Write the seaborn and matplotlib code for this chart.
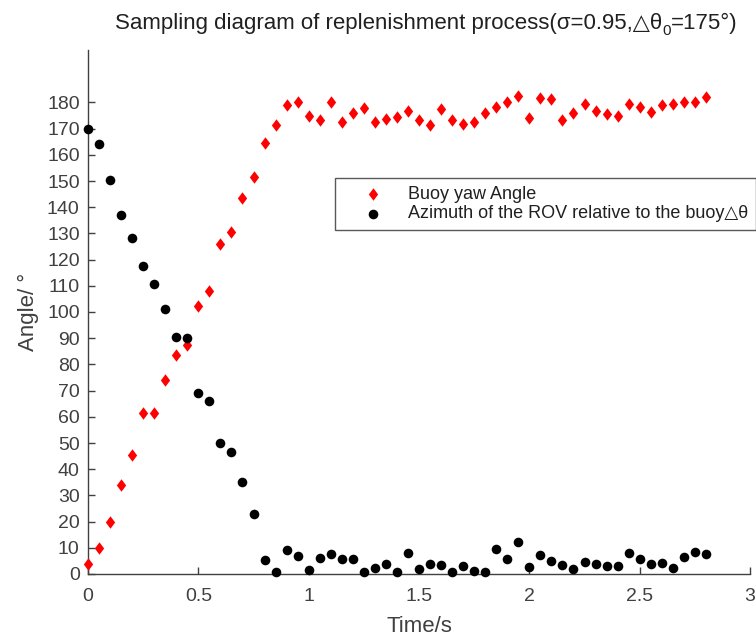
import numpy as np
import pandas as pd
import matplotlib
matplotlib.use("Agg")
import matplotlib.pyplot as plt
import seaborn as sns

time_s = [round(0.05 * i, 2) for i in range(57)]

buoy_yaw = [4, 10, 20, 34, 45.6, 61.3, 61.3, 74.2, 83.5, 87.3,
            102.2, 108, 126, 130.6, 143.5, 151.5, 164.5, 171.5, 179, 180,
            175, 173.2, 180, 172.5, 176, 178, 172.5, 173.8, 174.4, 176.7,
            173.2, 171.5, 177.6, 173.2, 171.9, 172.5, 176, 178.2, 180, 182.4,
            174, 181.8, 181.3, 173.2, 176, 179.5, 176.6, 175.7, 175, 179.5,
            178.2, 176.3, 179, 179.5, 180, 180, 182]

rov_azimuth = [170, 164.3, 150.5, 137, 128.4, 117.5, 110.5, 101.2, 90.3, 89.9,
               68.9, 66.1, 50.1, 46.6, 35.2, 22.8, 5.3, 0.9, 9.2, 7,
               1.5, 6.2, 7.6, 5.6, 5.6, 0.6, 2.4, 3.7, 0.9, 7.9,
               1.9, 3.9, 3.4, 0.9, 3, 1.3, 0.6, 9.4, 5.7, 12.1,
               2.5, 7.2, 5, 3.4, 1.9, 4.5, 3.8, 3, 3, 7.9,
               5.7, 3.7, 4.1, 2.2, 6.6, 8.3, 7.5]

label_yaw = "Buoy yaw Angle"
label_rov = "Azimuth of the ROV relative to the buoy\u25b3\u03b8"
title_parts = ["Sampling diagram of replenishment process(\u03c3=0.95,\u25b3\u03b8",
               "0", "=175\u00b0)"]
x_ticks = [0, 0.5, 1, 1.5, 2, 2.5, 3]
y_ticks = list(range(0, 181, 10))

sns.set_style("white")
plt.rcParams["font.family"] = ["Liberation Sans", "DejaVu Sans"]

fig = plt.figure(figsize=(7.56, 6.36), dpi=100)
ax = fig.add_axes([88 / 756, 1 - 574 / 636, 662 / 756, 524 / 636])

df_yaw = pd.DataFrame({"t": time_s, "v": buoy_yaw})
df_rov = pd.DataFrame({"t": time_s, "v": rov_azimuth})

diamond = [(0, 1), (0.75, 0), (0, -1), (-0.75, 0), (0, 1)]
sns.scatterplot(data=df_yaw, x="t", y="v", ax=ax, marker=diamond, s=80,
                color="#ff0000", linewidth=0, label=label_yaw, clip_on=False, zorder=3)
sns.scatterplot(data=df_rov, x="t", y="v", ax=ax, marker="o", s=48,
                color="#000000", linewidth=0, label=label_rov, clip_on=False, zorder=3)

grey = "#404040"
ax.set_xlim(0, 3)
ax.set_ylim(0, 200)
ax.set_xticks(x_ticks)
ax.set_xticklabels([f"{t:g}" for t in x_ticks])
ax.set_yticks(y_ticks)
ax.tick_params(direction="in", length=5, width=1, colors=grey, labelsize=14,
               left=True, bottom=True)
ax.tick_params(axis="x", pad=10)
ax.tick_params(axis="y", pad=6)
for s in ["top", "right"]:
    ax.spines[s].set_visible(False)
for s in ["left", "bottom"]:
    ax.spines[s].set_color(grey)
    ax.spines[s].set_linewidth(1)

ax.set_xlabel("Time/s", fontsize=16, color=grey, labelpad=8)
ax.set_ylabel("Angle/ \u00b0", fontsize=16, color=grey, labelpad=6)

# title composed of pieces (main text, subscript, rest)
W, H = 756, 636
base_y = 29
sizes = [16, 11, 16]
drops = [0, 6, 0]
texts = [fig.text(0, 1 - (base_y + d) / H, p, fontsize=fs, color="#202020",
                  ha="left", va="baseline")
         for p, fs, d in zip(title_parts, sizes, drops)]
fig.canvas.draw()
renderer = fig.canvas.get_renderer()
widths = [t.get_window_extent(renderer).width for t in texts]
total = sum(widths)
x = 426 - total / 2
for t, w in zip(texts, widths):
    t.set_x(x / W)
    x += w

leg = ax.legend(loc="upper left", bbox_to_anchor=(247 / 662, (574 - 178) / 524),
                frameon=True, fontsize=13, fancybox=False, borderpad=0.45,
                handletextpad=0.3, borderaxespad=0, labelspacing=0.12,
                handlelength=3.3)
leg.get_frame().set_edgecolor("#303030")
leg.get_frame().set_linewidth(1)
for txt in leg.get_texts():
    txt.set_color("#202020")

fig.savefig("out.png", dpi=100)
